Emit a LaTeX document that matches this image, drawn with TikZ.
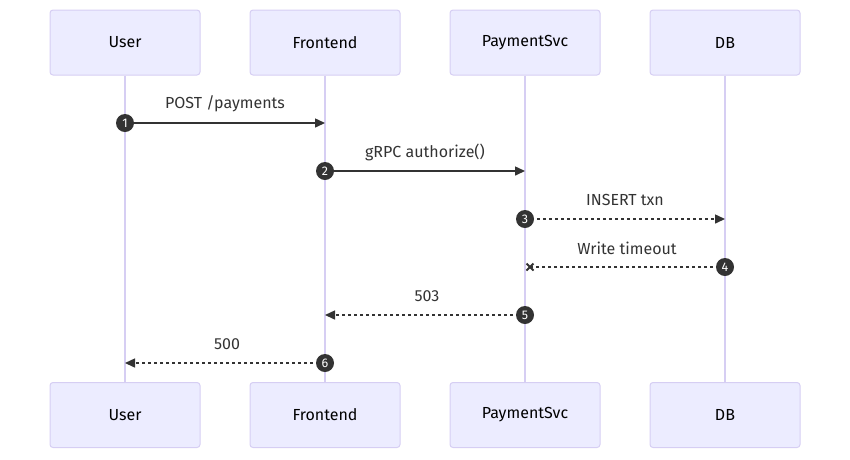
\documentclass[tikz,border=0pt]{standalone}
\usepackage{fontspec}
\setmainfont{Fira Sans}
\usetikzlibrary{arrows.meta,calc}
\definecolor{actbg}{HTML}{ECECFF}
\definecolor{actbd}{HTML}{D6CEF3}
\definecolor{msg}{HTML}{333333}
\tikzset{
  actor/.style={draw=actbd, fill=actbg, line width=1pt, rounded corners=3pt,
    minimum width=150pt, minimum height=65pt, inner sep=0pt,
    font=\fontsize{16}{19}\selectfont, text=black},
  life/.style={draw=actbd, line width=1.5pt},
  solidmsg/.style={draw=msg, line width=1.5pt, -{Triangle[length=10pt,width=9pt]}},
  dotmsg/.style={draw=msg, line width=1.5pt, dash pattern=on 3pt off 3pt, -{Triangle[length=10pt,width=9pt]}},
  crossmsg/.style={draw=msg, line width=1.5pt, dash pattern=on 3pt off 3pt},
  crossmark/.style={draw=msg, line width=2pt},
  numdot/.style={circle, fill=msg, text=white, inner sep=0pt, minimum size=18pt,
    font=\fontsize{12.5}{13}\selectfont},
  lbl/.style={font=\fontsize{16}{19}\selectfont, text=msg, inner sep=0pt}
}
\begin{document}
\begin{tikzpicture}[x=1pt,y=-1pt]
\useasboundingbox (0,0) rectangle (850,459);
% actor boxes
\node[actor] (ut) at (125,42.5) {User};
\node[actor] (ft) at (325,42.5) {Frontend};
\node[actor] (pt) at (525,42.5) {PaymentSvc};
\node[actor] (dt) at (725,42.5) {DB};
\node[actor] (ub) at (125,415) {User};
\node[actor] (fb) at (325,415) {Frontend};
\node[actor] (pb) at (525,415) {PaymentSvc};
\node[actor] (db) at (725,415) {DB};
% lifelines
\draw[life] (ut.south) -- (ub.north);
\draw[life] (ft.south) -- (fb.north);
\draw[life] (pt.south) -- (pb.north);
\draw[life] (dt.south) -- (db.north);
% message end points
\coordinate (u1) at (125,123); \coordinate (f1) at (325,123);
\coordinate (f2) at (325,171); \coordinate (p2) at (525,171);
\coordinate (p3) at (525,219); \coordinate (d3) at (725,219);
\coordinate (d4) at (725,267); \coordinate (p4) at (530,267);
\coordinate (p5) at (525,315); \coordinate (f5) at (325,315);
\coordinate (f6) at (325,363); \coordinate (u6) at (125,363);
% messages
\draw[solidmsg] (u1) -- (f1);
\draw[solidmsg] (f2) -- (p2);
\draw[dotmsg] (p3) -- (d3);
\draw[crossmsg] (d4) -- (p4);
\draw[crossmark] ($(p4)+(-3.5,-3.5)$) -- ($(p4)+(3.5,3.5)$) ($(p4)+(-3.5,3.5)$) -- ($(p4)+(3.5,-3.5)$);
\draw[dotmsg] (p5) -- (f5);
\draw[dotmsg] (f6) -- (u6);
% labels
\node[lbl] (l1) at (225,104) {POST /payments};
\node[lbl] (l2) at (425,152) {gRPC authorize()};
\node[lbl] (l3) at (625,200) {INSERT txn};
\node[lbl] (l4) at (627,248) {Write timeout};
\node[lbl] (l5) at (427,296) {503};
\node[lbl] (l6) at (227,344) {500};
% sequence numbers
\node[numdot] (n1) at (u1) {1};
\node[numdot] (n2) at (f2) {2};
\node[numdot] (n3) at (p3) {3};
\node[numdot] (n4) at (d4) {4};
\node[numdot] (n5) at (p5) {5};
\node[numdot] (n6) at (f6) {6};
\end{tikzpicture}
\end{document}
